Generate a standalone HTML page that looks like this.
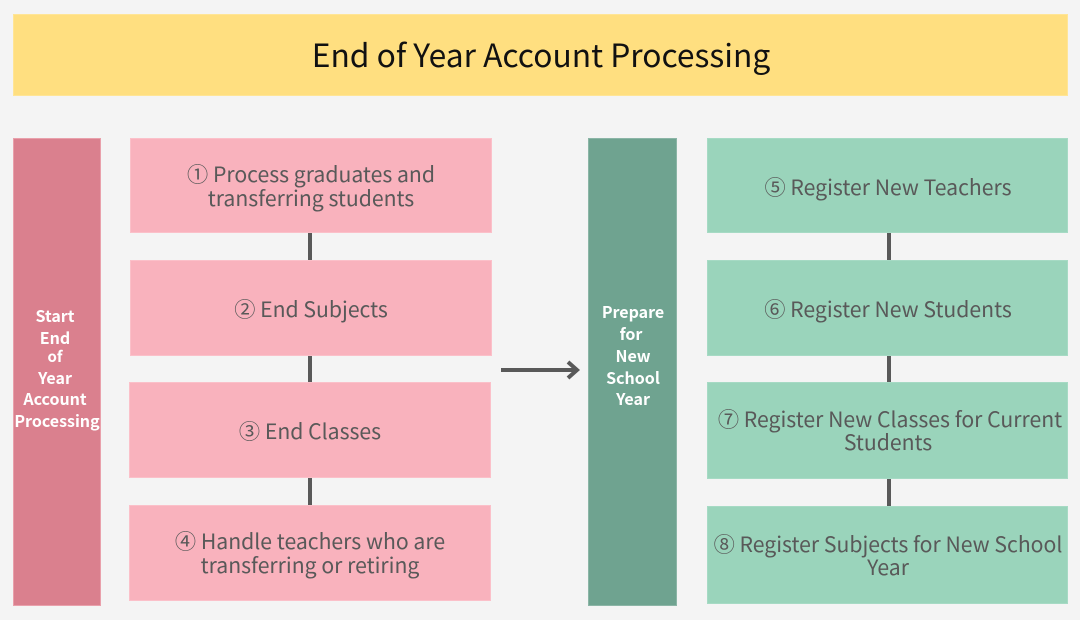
<!DOCTYPE html>
<html><head><meta charset="utf-8">
<style>
html,body{margin:0;padding:0}
body{width:1080px;height:620px;background:#f4f4f4;position:relative;overflow:hidden;font-family:"Noto Sans CJK KR","Noto Sans CJK JP","Liberation Sans",sans-serif}
.b{position:absolute;box-sizing:border-box}
.p{background:#f9b2bd;border:1px solid #fbc0c9}
.g{background:#9ad4bb;border:1px solid #a6dac4}
.t{position:absolute;white-space:nowrap;transform:translateX(-50%);color:#595959;font-size:21.2px;line-height:24px;height:24px}
.w{position:absolute;white-space:nowrap;transform:translateX(-50%);color:#fff;font-size:16px;font-weight:700;line-height:22px;height:22px}
.c{position:absolute;background:#595959;width:4px}
</style></head><body>
<div class="b" style="left:13px;top:14px;width:1055px;height:82px;background:#ffdf80;border:1px solid #ffe596"></div>
<div class="t" style="left:541px;top:30px;font-size:31.75px;line-height:48px;height:48px;color:#111">End of Year Account Processing</div>

<div class="b" style="left:13px;top:138px;width:88px;height:468px;background:#da808e;border:1px solid #e9a0ab"></div>
<div class="w" style="left:55px;top:304px">Start</div>
<div class="w" style="left:55px;top:326px">End</div>
<div class="w" style="left:55px;top:346px;font-size:15px">of</div>
<div class="w" style="left:55px;top:366px">Year</div>
<div class="w" style="left:55px;top:387px">Account</div>
<div class="w" style="left:57px;top:409px">Processing</div>

<div class="b p" style="left:130px;top:138px;width:362px;height:95px"></div>
<div class="b p" style="left:130px;top:260px;width:362px;height:96px"></div>
<div class="b p" style="left:129px;top:382px;width:362px;height:96px"></div>
<div class="b p" style="left:129px;top:505px;width:362px;height:96px"></div>
<div class="c" style="left:308px;top:233px;height:27px"></div>
<div class="c" style="left:308px;top:356px;height:26px"></div>
<div class="c" style="left:308px;top:478px;height:27px"></div>

<div class="t" style="left:311px;top:162px">① Process graduates and</div>
<div class="t" style="left:311px;top:186px">transferring students</div>
<div class="t" style="left:311px;top:297px">② End Subjects</div>
<div class="t" style="left:310px;top:419px">③ End Classes</div>
<div class="t" style="left:310px;top:529px">④ Handle teachers who are</div>
<div class="t" style="left:310px;top:553px">transferring or retiring</div>

<svg style="position:absolute;left:495px;top:355px" width="90" height="30">
<path d="M6 15H82M73 7L82 15L73 23" fill="none" stroke="#595959" stroke-width="4"/>
</svg>

<div class="b" style="left:588px;top:138px;width:89px;height:468px;background:#6fa390;border:1px solid #8bb5a6"></div>
<div class="w" style="left:633px;top:300px">Prepare</div>
<div class="w" style="left:631px;top:322px">for</div>
<div class="w" style="left:633px;top:344px">New</div>
<div class="w" style="left:633px;top:366px">School</div>
<div class="w" style="left:633px;top:387px">Year</div>

<div class="b g" style="left:707px;top:138px;width:361px;height:95px"></div>
<div class="b g" style="left:707px;top:260px;width:361px;height:96px"></div>
<div class="b g" style="left:707px;top:382px;width:361px;height:97px"></div>
<div class="b g" style="left:707px;top:506px;width:361px;height:98px"></div>
<div class="c" style="left:887px;top:233px;height:27px"></div>
<div class="c" style="left:887px;top:356px;height:26px"></div>
<div class="c" style="left:887px;top:479px;height:27px"></div>

<div class="t" style="left:888px;top:175px">⑤ Register New Teachers</div>
<div class="t" style="left:888px;top:297px">⑥ Register New Students</div>
<div class="t" style="left:890px;top:407px">⑦ Register New Classes for Current</div>
<div class="t" style="left:888px;top:430px">Students</div>
<div class="t" style="left:888px;top:532px">⑧ Register Subjects for New School</div>
<div class="t" style="left:888px;top:555px">Year</div>
</body></html>
